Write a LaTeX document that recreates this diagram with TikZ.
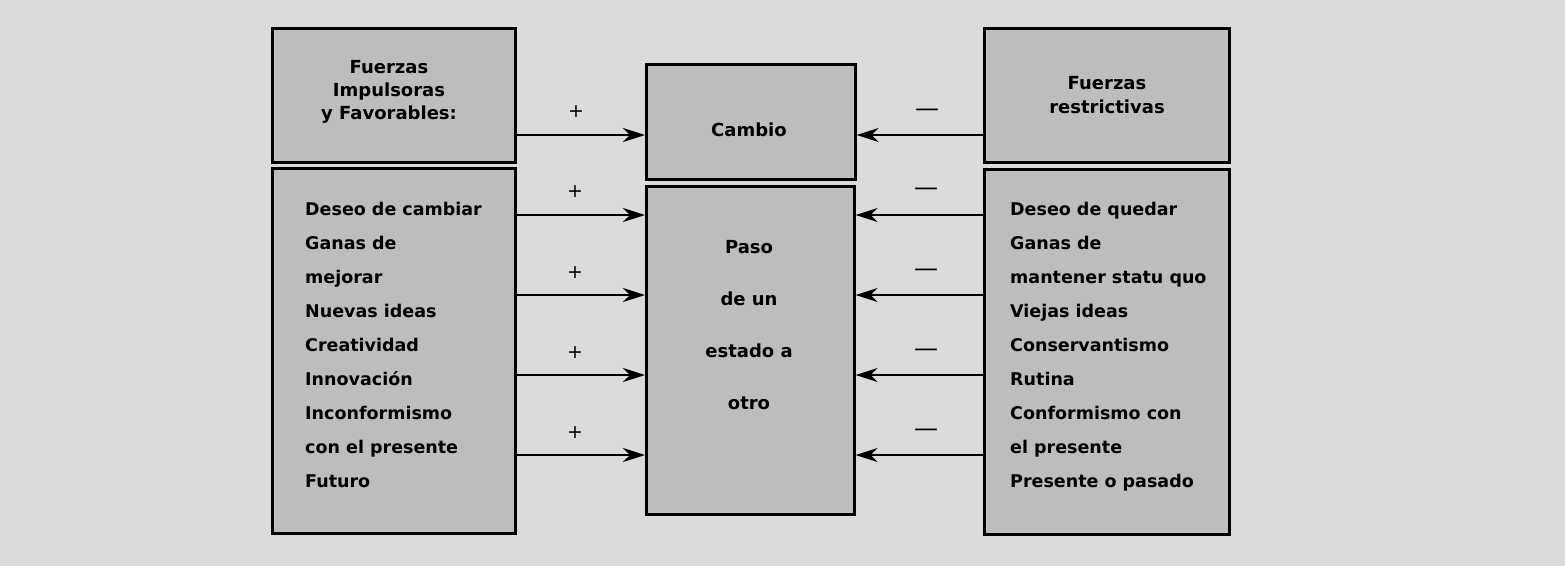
\documentclass[tikz,border=0pt]{standalone}
\usepackage{fontspec}
\setmainfont{DejaVu Sans}
\usepackage{tikz}
\usetikzlibrary{positioning,arrows.meta}

\definecolor{fondo}{gray}{0.86}
\definecolor{caja}{gray}{0.74}

\begin{document}
\begin{tikzpicture}[x=1pt, y=-1pt, >=Stealth,
    every node/.style={font=\bfseries\fontsize{17.5}{34}\selectfont, inner sep=0pt},
    caja/.style={draw, line width=2.6pt, fill=caja, anchor=north west},
    empuje/.style={-{Stealth[length=22pt, width=14pt, inset=7pt]}, line width=1.9pt},
    mas/.style={font=\fontsize{19}{19}\selectfont},
    menos/.style={font=\fontsize{24}{24}\selectfont}]
    \useasboundingbox[fill=fondo] (0,0) rectangle (1565,566);
    % cajas
    \node[caja, minimum width=243pt, minimum height=134pt] (impulsoras) at (271,27) {};
    \node[caja, minimum width=243pt, minimum height=365pt] (lista) at (271,167) {};
    \node[caja, minimum width=209pt, minimum height=115pt] (cambio) at (645,63) {};
    \node[caja, minimum width=208pt, minimum height=328pt] (paso) at (645,185) {};
    \node[caja, minimum width=245pt, minimum height=134pt] (restrictivas) at (983,27) {};
    \node[caja, minimum width=245pt, minimum height=365pt] (listaR) at (983,168) {};
    % textos
    \node[align=center, font=\bfseries\fontsize{18}{23}\selectfont] at (389,92) {Fuerzas\\Impulsoras\\y Favorables:};
    \node[align=center, font=\bfseries\fontsize{18}{24}\selectfont] at (1107,95) {Fuerzas\\restrictivas};
    \node[font=\bfseries\fontsize{18}{24}\selectfont] at (749,130) {Cambio};
    \node[align=center, font=\bfseries\fontsize{18}{52}\selectfont] at (749,325) {Paso\\de un\\estado a\\otro};
    \node[align=left, anchor=north west] at (305,202) {Deseo de cambiar\\Ganas de\\mejorar\\Nuevas ideas\\Creatividad\\Innovación\\Inconformismo\\con el presente\\Futuro};
    \node[align=left, anchor=north west] at (1010,202) {Deseo de quedar\\Ganas de\\mantener statu quo\\Viejas ideas\\Conservantismo\\Rutina\\Conformismo con\\el presente\\Presente o pasado};
    % flechas
    \draw[empuje] (impulsoras.east |- 0,135) -- (cambio.west |- 0,135);
    \draw[empuje] (restrictivas.west |- 0,135) -- (cambio.east |- 0,135);
    \node[mas] at (576,112) {+};
    \node[menos] at (927,113) {—};
    \foreach \y/\s in {215/192, 295/273, 375/353, 455/433}{
      \draw[empuje] (lista.east |- 0,\y) -- (paso.west |- 0,\y);
      \draw[empuje] (listaR.west |- 0,\y) -- (paso.east |- 0,\y);
      \node[mas] at (575,\s) {+};
      \node[menos] at (926,\s) {—};
    }
\end{tikzpicture}
\end{document}
